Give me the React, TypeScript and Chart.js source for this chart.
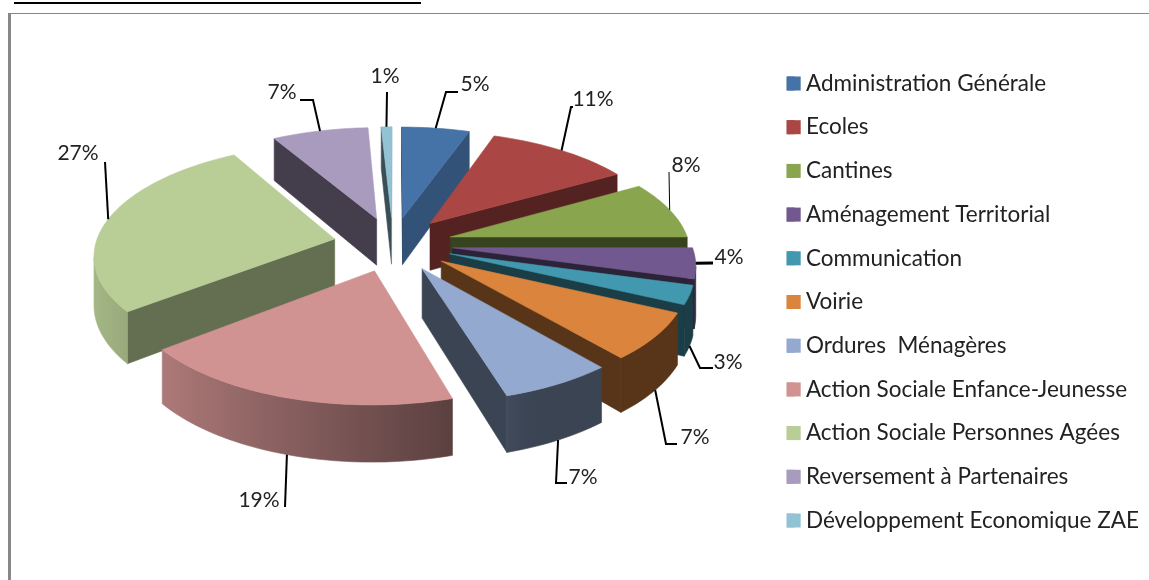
import React, { useEffect, useRef } from "react";
import { Chart, registerables } from "chart.js";

Chart.register(...registerables);

const categories = [
  "Administration Générale",
  "Ecoles",
  "Cantines",
  "Aménagement Territorial",
  "Communication",
  "Voirie",
  "Ordures  Ménagères",
  "Action Sociale Enfance-Jeunesse",
  "Action Sociale Personnes Agées",
  "Reversement à Partenaires",
  "Développement Economique ZAE",
];
const shares = [5.3, 11.3, 8.4, 4.4, 2.7, 6.8, 6.5, 18.9, 27.4, 7.49, 0.81];
const colors = ["#4572A7", "#AA4643", "#89A54E", "#71588F", "#4198AF", "#DB843D", "#93A9CF", "#D19392", "#B9CD96", "#A99BBD", "#92C3D5"];

// Camera of the tilted, exploded pie
const VIEW = { x0: 393, y0: 244, a: 239, b: 109, persp: 0.13, depth: 48, explode: 0.25 };
const FONT = "Lato, Carlito, 'Liberation Sans', sans-serif";

// Leader elbows and label centres; the first leader point is computed from the slice
const labelLayout: { path: number[][]; text: number[]; low: boolean; w: number }[] = [
  { path: [[446, 92], [458, 92]], text: [475, 84], low: false, w: 2 },
  { path: [[571, 107], [573, 107]], text: [593, 99], low: false, w: 2 },
  { path: [[669, 172]], text: [686, 165], low: false, w: 1 },
  { path: [[713, 263]], text: [729, 257], low: false, w: 3 },
  { path: [[700, 368], [713, 368]], text: [728, 362], low: true, w: 2 },
  { path: [[666, 444], [677, 444]], text: [695, 437], low: true, w: 2 },
  { path: [[556, 483], [567, 483]], text: [583, 477], low: true, w: 2 },
  { path: [[285, 507]], text: [259, 500], low: true, w: 2 },
  { path: [[105, 162]], text: [78, 153], low: false, w: 2 },
  { path: [[313, 100], [300, 100]], text: [282, 92], low: false, w: 2 },
  { path: [[387, 92]], text: [385, 76], low: false, w: 2 },
];

function shade(hex: string, f: number) {
  const n = parseInt(hex.slice(1), 16);
  const c = [(n >> 16) & 255, (n >> 8) & 255, n & 255].map((v) => Math.round(v * f));
  return `rgb(${c[0]},${c[1]},${c[2]})`;
}

function project(X: number, Y: number, z: number) {
  const s = 1 / (1 - VIEW.persp * Y);
  return { x: VIEW.x0 + VIEW.a * X * s, y: VIEW.y0 + VIEW.b * Y * s + z * VIEW.depth * s };
}

function poly(ctx: CanvasRenderingContext2D, pts: { x: number; y: number }[], fill: any) {
  ctx.beginPath();
  pts.forEach((p, i) => (i ? ctx.lineTo(p.x, p.y) : ctx.moveTo(p.x, p.y)));
  ctx.closePath();
  ctx.fillStyle = fill;
  ctx.strokeStyle = fill;
  ctx.lineWidth = 0.6;
  ctx.fill();
  ctx.stroke();
}

const radialFactor = (nx: number) => 0.4 + 0.36 * Math.max(0, nx) * Math.max(0, nx);
const rimFactor = (nx: number) => Math.max(0.4, 0.54 - 0.364 * nx);

const pie3d = {
  id: "pie3d",
  beforeDatasetsDraw(chart: any) {
    const ctx: CanvasRenderingContext2D = chart.ctx;
    const arcs = chart.getDatasetMeta(0).data;
    const slices = arcs.map((arc: any, i: number) => {
      const t0 = arc.startAngle + Math.PI / 2;
      const t1 = arc.endAngle + Math.PI / 2;
      const mid = (t0 + t1) / 2;
      return { i, t0, t1, mid, ex: VIEW.explode * Math.sin(mid), ey: -VIEW.explode * Math.cos(mid) };
    });
    const order = [...slices].sort((p: any, q: any) => -Math.cos(p.mid) + Math.cos(q.mid));
    for (const s of order) {
      const col = colors[s.i];
      const rim = (t: number, z: number) => project(s.ex + Math.sin(t), s.ey - Math.cos(t), z);
      const apex = (z: number) => project(s.ex, s.ey, z);
      const steps = Math.max(2, Math.ceil((s.t1 - s.t0) / 0.03));
      const ts: number[] = [];
      for (let k = 0; k <= steps; k++) ts.push(s.t0 + ((s.t1 - s.t0) * k) / steps);
      // radial walls
      if (rim(s.t0, 0).x < apex(0).x)
        poly(ctx, [apex(0), rim(s.t0, 0), rim(s.t0, 1), apex(1)], shade(col, radialFactor(-Math.cos(s.t0))));
      if (rim(s.t1, 0).x > apex(0).x)
        poly(ctx, [apex(0), rim(s.t1, 0), rim(s.t1, 1), apex(1)], shade(col, radialFactor(Math.cos(s.t1))));
      // outer wall: one shape with a horizontal gradient following the light
      const vis = ts.filter((t, k) => {
        const prev = ts[k - 1];
        const next = ts[k + 1];
        return (next !== undefined && rim(next, 0).x < rim(t, 0).x) || (prev !== undefined && rim(t, 0).x < rim(prev, 0).x);
      });
      if (vis.length > 1) {
        const xs = vis.map((t) => rim(t, 0).x);
        const minX = Math.min(...xs);
        const maxX = Math.max(...xs);
        const grad = ctx.createLinearGradient(minX, 0, maxX, 0);
        vis.forEach((t, k) => {
          const u = (xs[k] - minX) / Math.max(1e-6, maxX - minX);
          grad.addColorStop(u, shade(col, rimFactor(Math.sin(t))));
        });
        poly(ctx, [...vis.map((t) => rim(t, 0)), ...[...vis].reverse().map((t) => rim(t, 1))], grad);
      }
      // top face
      poly(ctx, [apex(0), ...ts.map((t) => rim(t, 0))], col);
    }
    // data labels
    ctx.textAlign = "center";
    ctx.textBaseline = "middle";
    ctx.font = `21px ${FONT}`;
    for (const s of slices) {
      const l = labelLayout[s.i];
      const start = project(s.ex + Math.sin(s.mid), s.ey - Math.cos(s.mid), l.low ? 1 : 0);
      ctx.beginPath();
      ctx.moveTo(start.x, start.y);
      l.path.forEach((p) => ctx.lineTo(p[0], p[1]));
      ctx.strokeStyle = "#000";
      ctx.lineWidth = l.w;
      ctx.stroke();
      ctx.fillStyle = "#222";
      ctx.fillText(`${Math.round(shares[s.i])}%`, l.text[0], l.text[1]);
    }
    return false;
  },
  afterDraw(chart: any) {
    // legend swatches are 14px square, wider than the label gap allows
    const ctx: CanvasRenderingContext2D = chart.ctx;
    (chart.legend.legendHitBoxes || []).forEach((h: any, i: number) => {
      ctx.fillStyle = colors[i];
      ctx.fillRect(h.left, h.top + h.height / 2 - 7, 14, 14);
    });
  },
};

export default function App() {
  const ref = useRef<HTMLCanvasElement>(null);
  useEffect(() => {
    document.body.style.margin = "0";
    const chart = new Chart(ref.current!, {
      type: "pie",
      data: {
        labels: categories,
        datasets: [{ data: shares, backgroundColor: colors, borderWidth: 0 }],
      },
      plugins: [pie3d],
      options: {
        responsive: false,
        animation: false,
        layout: { padding: { top: 24, right: 0, bottom: 0, left: 0 } },
        plugins: {
          tooltip: { enabled: false },
          legend: {
            position: "right",
            align: "center",
            labels: {
              boxWidth: 8,
              boxHeight: 14,
              padding: 21.2,
              color: "#222",
              font: { family: FONT, size: 22.5 },
            },
          },
        },
      },
    } as any);
    return () => chart.destroy();
  }, []);
  return (
    <div style={{ position: "relative", width: 1149, height: 580, overflow: "hidden", background: "#fff" }}>
      <div style={{ position: "absolute", left: 14, top: 2, width: 407, height: 2, background: "#000" }} />
      <div style={{ position: "absolute", left: 8, top: 13, width: 1141, height: 1, background: "#888" }} />
      <div style={{ position: "absolute", left: 8, top: 13, width: 3, height: 567, background: "#888" }} />
      <canvas ref={ref} width={1149} height={580} style={{ position: "absolute", left: 0, top: 0, display: "block" }} />
    </div>
  );
}
